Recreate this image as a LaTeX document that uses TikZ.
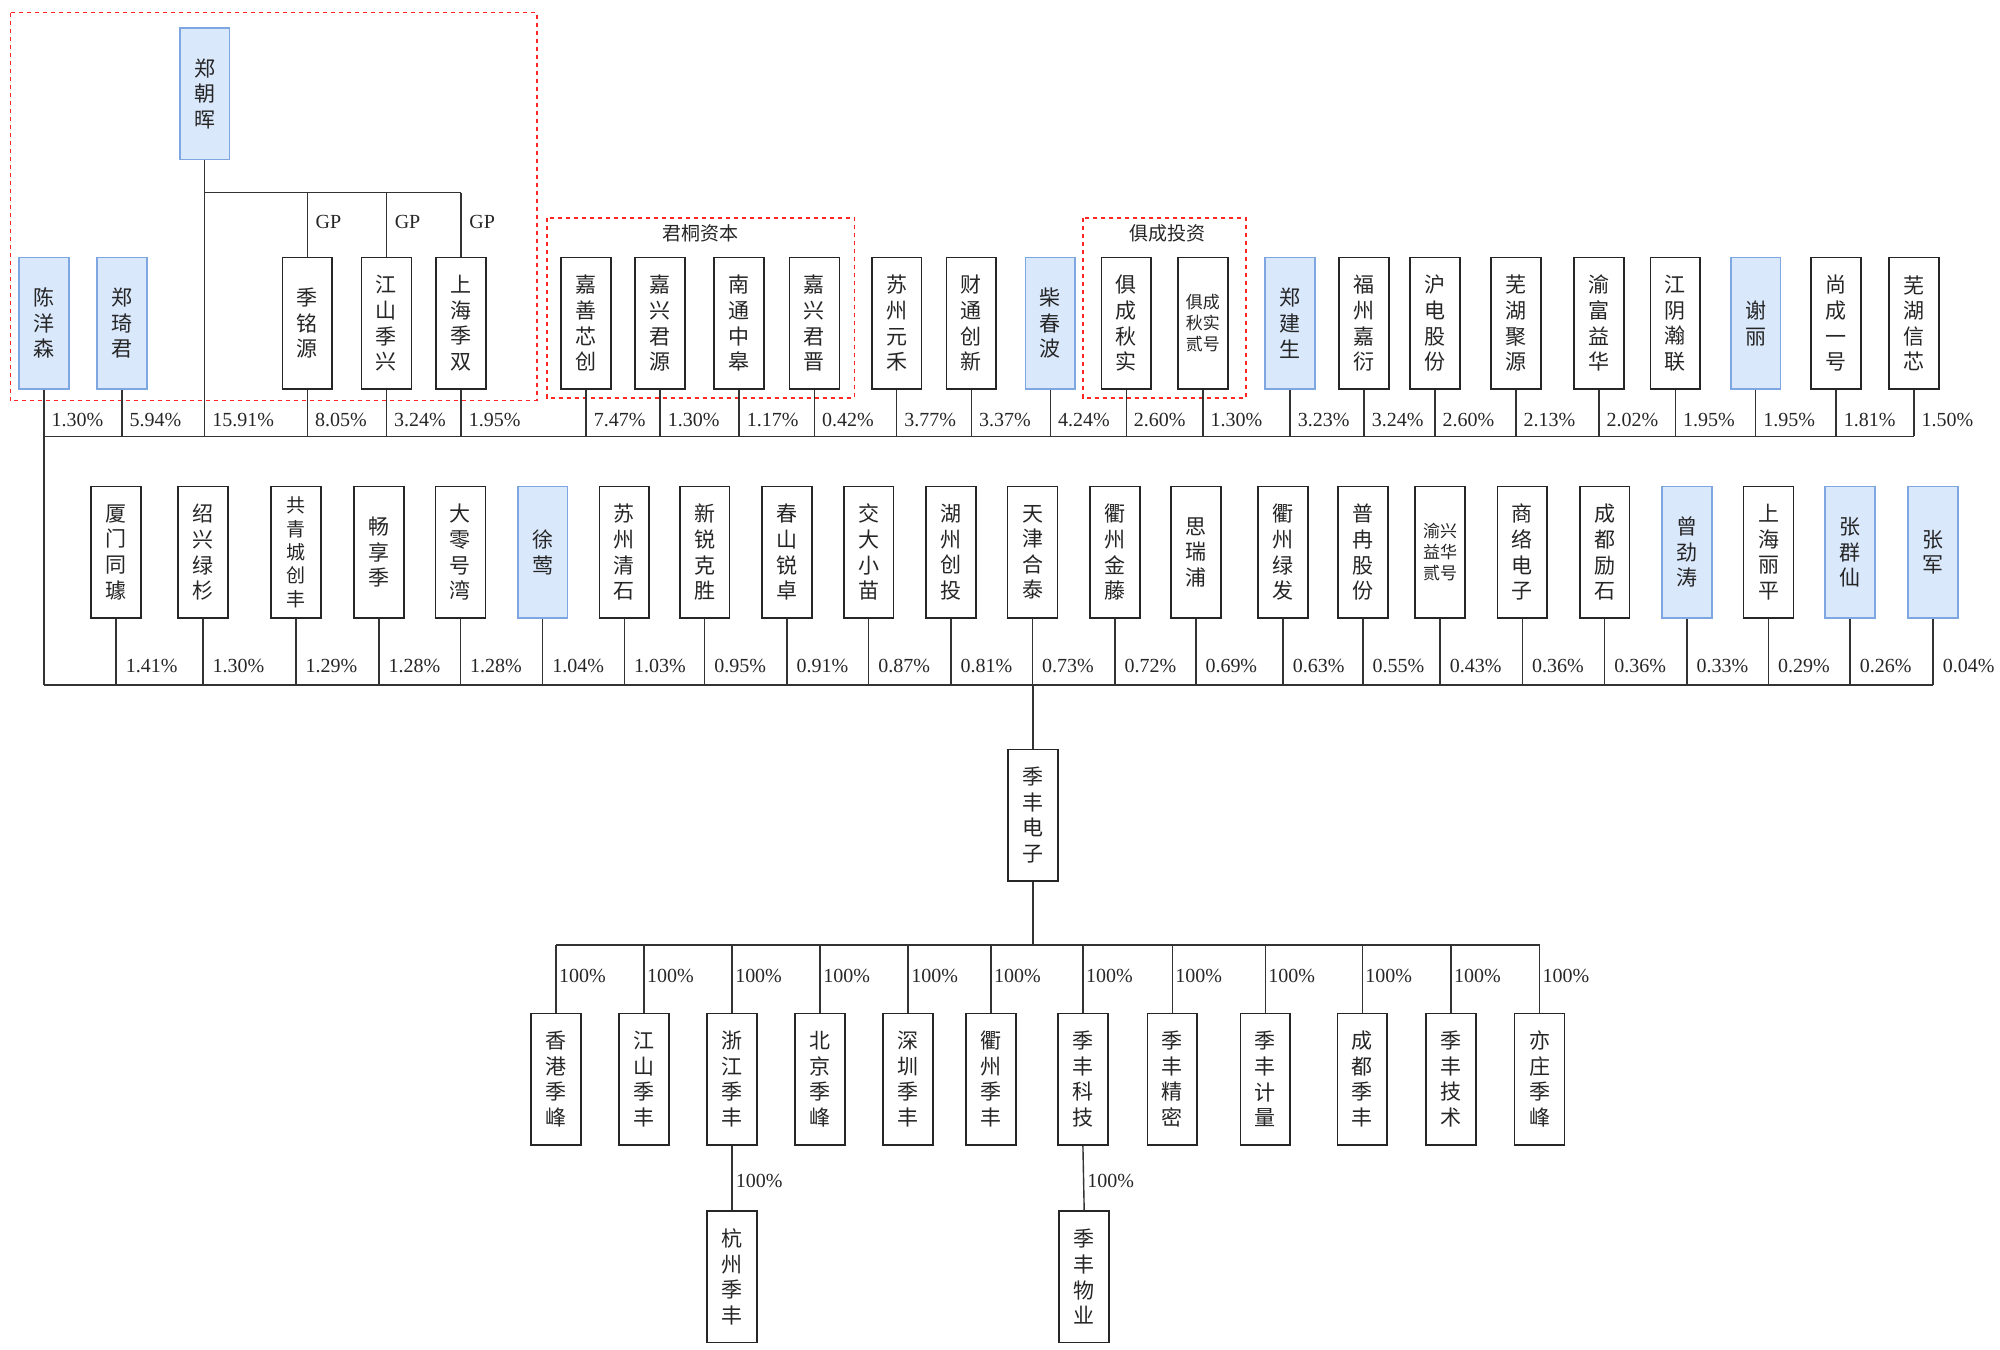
\documentclass[tikz,border=0pt]{standalone}
\usepackage{fontspec}
\setmainfont{Liberation Serif}
\newfontfamily\cjk{Noto Sans CJK SC}
\definecolor{pfill}{HTML}{DAE8FC}
\definecolor{pdraw}{HTML}{7EA6E0}
\tikzset{
 base/.style={line width=0.8pt, minimum width=24.9pt, minimum height=65.7pt, inner sep=0pt, align=center, text=black!85, font=\cjk\fontsize{10.5}{12.8}\selectfont},
 box/.style={base, draw=black!85, fill=white},
 pbox/.style={base, draw=pdraw, fill=pfill},
 ln/.style={line width=0.7pt, draw=black!80},
 pct/.style={font=\fontsize{10}{12}\selectfont, inner sep=0pt, anchor=west, text=black!85},
 pu/.style={pct, pos=0.65, xshift=3.5pt},
 pl/.style={pct, pos=0.71, xshift=4.5pt},
 ps/.style={pct, pos=0.46, xshift=1.2pt},
 grp/.style={draw=red!85, line width=0.7pt, dash pattern=on 2pt off 2pt},
 ttl/.style={font=\cjk\fontsize{9.5}{11}\selectfont, inner sep=0pt, text=black!85}
}
\begin{document}
\begin{tikzpicture}[x=0.6378pt,y=-0.6378pt]
\useasboundingbox (0,0) rectangle (1568,1058);
\coordinate (gp) at (0,151);
\coordinate (ub) at (0,342);
\coordinate (lb) at (0,537);
\coordinate (sb) at (0,741);

% group frames
\draw[grp] (8,10) rectangle (421,314);
\draw[grp] (429,171) rectangle (670,312);
\draw[grp] (849,171) rectangle (977,312);
\node[ttl] (jtzb) at (549,183) {君桐资本};
\node[ttl] (jctz) at (915,183) {俱成投资};

% top person
\node[pbox] (zch) at (160.5,73.5) {郑\\朝\\晖};

% upper row
\node[pbox] (cys) at (34.5,253.5) {陈\\洋\\森};
\foreach \n/\x/\t/\p/\s in {
 zqj/95.5/{郑\\琦\\君}/5.94/pbox,
 jmy/241/{季\\铭\\源}/8.05/box,
 jsjx/303/{江\\山\\季\\兴}/3.24/box,
 shjs/361.5/{上\\海\\季\\双}/1.95/box,
 jsxc/459.5/{嘉\\善\\芯\\创}/7.47/box,
 jxjy/517.5/{嘉\\兴\\君\\源}/1.30/box,
 ntzg/579.5/{南\\通\\中\\皋}/1.17/box,
 jxjj/638.5/{嘉\\兴\\君\\晋}/0.42/box,
 szyh/703/{苏\\州\\元\\禾}/3.77/box,
 tcxc/761.5/{财\\通\\创\\新}/3.37/box,
 ccb/823.5/{柴\\春\\波}/4.24/pbox,
 jcqs/883/{俱\\成\\秋\\实}/2.60/box,
 zjs/1011.5/{郑\\建\\生}/3.23/pbox,
 fzjy/1069.5/{福\\州\\嘉\\衍}/3.24/box,
 hdgf/1125/{沪\\电\\股\\份}/2.60/box,
 whjy/1188.5/{芜\\湖\\聚\\源}/2.13/box,
 yfyh/1253.5/{渝\\富\\益\\华}/2.02/box,
 jyhl/1313.5/{江\\阴\\瀚\\联}/1.95/box,
 xl/1376.5/{谢\\丽}/1.95/pbox,
 scyh/1439.5/{尚\\成\\一\\号}/1.81/box,
 whxx/1500.5/{芜\\湖\\信\\芯}/1.50/box}
{
 \node[\s] (\n) at (\x,253.5) {\t};
 \draw[ln] (\n.south) -- node[pu]{\p\%} (\n.south |- ub);
}
\node[box, font=\cjk\fontsize{8.5}{10.5}\selectfont] (jcqs2) at (943,253.5) {俱成\\秋实\\贰号};
\draw[ln] (jcqs2.south) -- node[pu]{1.30\%} (jcqs2.south |- ub);

% GP links
\draw[ln] (zch.south |- gp) -- (shjs.north |- gp);
\foreach \n in {jmy,jsjx,shjs}{
 \draw[ln] (\n.north |- gp) -- node[pct, pos=0.45, xshift=3.8pt]{GP} (\n.north);
}
\draw[ln] (zch.south) -- node[pct, pos=0.94, xshift=3.5pt]{15.91\%} (zch.south |- ub);
\draw[ln] (cys.south) -- node[pu]{1.30\%} (cys.south |- ub) -- (cys.south |- lb);

% upper bus
\draw[ln] (cys.south |- ub) -- (whxx.south |- ub);

% lower row
\foreach \n/\x/\t/\p/\s in {
 xmtq/91/{厦\\门\\同\\璩}/1.41/box,
 sxls/159/{绍\\兴\\绿\\杉}/1.30/box,
 xlj/297/{畅\\享\\季}/1.28/box,
 dlhw/361/{大\\零\\号\\湾}/1.28/box,
 xy/425.5/{徐\\莺}/1.04/pbox,
 szqs/489.5/{苏\\州\\清\\石}/1.03/box,
 xrks/552.5/{新\\锐\\克\\胜}/0.95/box,
 csrz/617/{春\\山\\锐\\卓}/0.91/box,
 jdxm/681/{交\\大\\小\\苗}/0.87/box,
 hzct/745.5/{湖\\州\\创\\投}/0.81/box,
 tjht/809.5/{天\\津\\合\\泰}/0.73/box,
 qzjt/874/{衢\\州\\金\\藤}/0.72/box,
 srp/937.5/{思\\瑞\\浦}/0.69/box,
 qzlf/1006/{衢\\州\\绿\\发}/0.63/box,
 prgf/1068.5/{普\\冉\\股\\份}/0.55/box,
 sldz/1193.5/{商\\络\\电\\子}/0.36/box,
 cdls/1258/{成\\都\\励\\石}/0.36/box,
 zjt/1322.5/{曾\\劲\\涛}/0.33/pbox,
 shlp/1386.5/{上\\海\\丽\\平}/0.29/box,
 zqx/1450.5/{张\\群\\仙}/0.26/pbox,
 zj/1515.5/{张\\军}/0.04/pbox}
{
 \node[\s] (\n) at (\x,433) {\t};
 \draw[ln] (\n.south) -- node[pl]{\p\%} (\n.south |- lb);
}
\node[box, font=\cjk\fontsize{9.5}{11.7}\selectfont] (gqc) at (232,433) {共\\青\\城\\创\\丰};
\draw[ln] (gqc.south) -- node[pl]{1.29\%} (gqc.south |- lb);
\node[box, font=\cjk\fontsize{8.5}{10.5}\selectfont] (yxyh) at (1129,433) {渝兴\\益华\\贰号};
\draw[ln] (yxyh.south) -- node[pl]{0.43\%} (yxyh.south |- lb);

% lower bus
\draw[ln] (cys.south |- lb) -- (zj.south |- lb);

% company
\node[box] (jfdz) at (810,639) {季\\丰\\电\\子};
\draw[ln] (jfdz.north |- lb) -- (jfdz.north);
\draw[ln] (jfdz.south) -- (jfdz.south |- sb);

% subsidiaries
\foreach \n/\x/\t in {
 xgjf/436/{香\\港\\季\\峰},
 jsjf/505/{江\\山\\季\\丰},
 zjjf/574/{浙\\江\\季\\丰},
 bjjf/643/{北\\京\\季\\峰},
 szjf/712/{深\\圳\\季\\丰},
 qzjf/777/{衢\\州\\季\\丰},
 jfkj/849/{季\\丰\\科\\技},
 jfjm/919/{季\\丰\\精\\密},
 jfjl/992/{季\\丰\\计\\量},
 cdjf/1068/{成\\都\\季\\丰},
 jfjs/1137.5/{季\\丰\\技\\术},
 yzjf/1207/{亦\\庄\\季\\峰}}
{
 \node[box] (\n) at (\x,846) {\t};
 \draw[ln] (\n.north |- sb) -- node[ps]{100\%} (\n.north);
}
\draw[ln] (xgjf.north |- sb) -- (yzjf.north |- sb);

\node[box] (hzjf) at (574,1001) {杭\\州\\季\\丰};
\draw[ln] (zjjf.south) -- node[pct, pos=0.55, xshift=1.5pt]{100\%} (hzjf.north);
\node[box] (jfwy) at (850,1001) {季\\丰\\物\\业};
\draw[ln] (jfkj.south) -- node[pct, pos=0.55, xshift=1.5pt]{100\%} (jfwy.north);
\end{tikzpicture}
\end{document}
